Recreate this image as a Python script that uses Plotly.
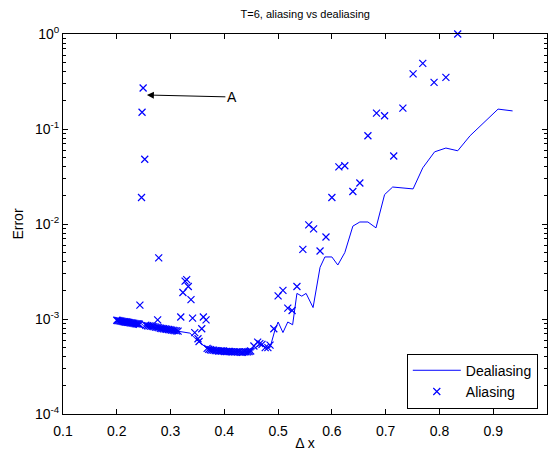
import plotly.graph_objects as go

# ---------------- data ----------------
dealias_x = [0.200, 0.245, 0.250, 0.312, 0.336, 0.349, 0.358, 0.368, 0.380, 0.400,
             0.420, 0.440, 0.452, 0.460, 0.468, 0.478, 0.485, 0.494, 0.500, 0.509,
             0.518, 0.527, 0.535, 0.544, 0.552, 0.565, 0.578, 0.587, 0.600, 0.611,
             0.624, 0.639, 0.652, 0.667, 0.682, 0.698, 0.713, 0.751, 0.769, 0.791,
             0.812, 0.834, 0.857, 0.909, 0.936]
dealias_y = [9.5e-4, 9.0e-4, 8.5e-4, 7.4e-4, 7.1e-4, 6.0e-4, 5.4e-4, 4.9e-4, 4.7e-4, 4.6e-4,
             4.5e-4, 4.5e-4, 4.6e-4, 5.1e-4, 5.4e-4, 5.0e-4, 5.0e-4, 7.6e-4, 9.3e-4, 7.2e-4,
             9.3e-4, 8.7e-4, 1.86e-3, 1.74e-3, 1.86e-3, 1.32e-3, 3.5e-3, 4.5e-3, 4.5e-3, 3.7e-3,
             5.0e-3, 9.5e-3, 1.05e-2, 1.05e-2, 9.1e-3, 2.04e-2, 2.45e-2, 2.34e-2, 3.9e-2, 5.75e-2,
             6.3e-2, 5.9e-2, 8.5e-2, 0.162, 0.155]

alias_x = [0.200, 0.202, 0.204, 0.206, 0.208, 0.210, 0.212, 0.214, 0.216, 0.218,
           0.220, 0.222, 0.224, 0.226, 0.228, 0.230, 0.232, 0.234, 0.236, 0.238,
           0.240, 0.242,
           0.243, 0.246, 0.247, 0.249, 0.252,
           0.254, 0.257, 0.260, 0.263, 0.266, 0.269, 0.272, 0.275, 0.278, 0.281,
           0.284, 0.287, 0.290, 0.293, 0.296, 0.299, 0.302, 0.305, 0.308, 0.311, 0.314,
           0.276, 0.278,
           0.319, 0.323, 0.327, 0.330, 0.333, 0.338, 0.341, 0.345, 0.351, 0.353,
           0.358, 0.361, 0.366,
           0.368, 0.371, 0.374, 0.377, 0.380, 0.383, 0.386, 0.389, 0.392, 0.395,
           0.398, 0.401, 0.404, 0.407, 0.410, 0.413, 0.416, 0.419, 0.422, 0.425,
           0.428, 0.431, 0.434, 0.437, 0.440, 0.443, 0.446, 0.449,
           0.455, 0.462, 0.466, 0.470, 0.476, 0.481, 0.485, 0.492, 0.500, 0.509,
           0.518, 0.526, 0.535, 0.546, 0.557, 0.566, 0.578, 0.589, 0.600, 0.613,
           0.624, 0.639, 0.652, 0.667, 0.683, 0.698, 0.715, 0.732, 0.751, 0.769,
           0.790, 0.812, 0.834]
alias_y = [9.7e-4, 9.65e-4, 9.6e-4, 9.55e-4, 9.5e-4, 9.45e-4, 9.4e-4, 9.35e-4, 9.3e-4, 9.3e-4,
           9.25e-4, 9.2e-4, 9.15e-4, 9.1e-4, 9.1e-4, 9.05e-4, 9.0e-4, 8.95e-4, 8.9e-4, 8.9e-4,
           8.85e-4, 8.8e-4,
           1.4e-3, 1.9e-2, 0.15, 0.27, 0.048,
           8.6e-4, 8.5e-4, 8.45e-4, 8.4e-4, 8.35e-4, 8.3e-4, 8.2e-4, 8.15e-4, 8.1e-4, 8.0e-4,
           7.95e-4, 7.9e-4, 7.85e-4, 7.8e-4, 7.75e-4, 7.7e-4, 7.65e-4, 7.6e-4, 7.55e-4, 7.5e-4, 7.45e-4,
           9.8e-4, 4.4e-3,
           1.05e-3, 1.9e-3, 2.5e-3, 2.6e-3, 2.2e-3, 1.6e-3, 1.02e-3, 7.2e-4, 6.2e-4, 5.8e-4,
           7.9e-4, 1.05e-3, 9.8e-4,
           4.9e-4, 4.8e-4, 4.75e-4, 4.7e-4, 4.7e-4, 4.65e-4, 4.65e-4, 4.6e-4, 4.6e-4, 4.6e-4,
           4.6e-4, 4.55e-4, 4.55e-4, 4.55e-4, 4.55e-4, 4.5e-4, 4.5e-4, 4.5e-4, 4.5e-4, 4.5e-4,
           4.5e-4, 4.45e-4, 4.45e-4, 4.5e-4, 4.5e-4, 4.5e-4, 4.55e-4, 4.6e-4,
           5.2e-4, 5.7e-4, 5.5e-4, 5.4e-4, 5.0e-4, 5.0e-4, 5.3e-4, 7.9e-4, 1.75e-3, 2.0e-3,
           1.3e-3, 1.23e-3, 2.2e-3, 5.4e-3, 9.8e-3, 8.9e-3, 5.2e-3, 7.3e-3, 1.9e-2, 4.0e-2,
           4.1e-2, 2.2e-2, 2.7e-2, 8.5e-2, 0.147, 0.138, 5.2e-2, 0.166, 0.38, 0.49,
           0.31, 0.35, 1.0]

x_ticks = [0.1, 0.2, 0.3, 0.4, 0.5, 0.6, 0.7, 0.8, 0.9, 1.0]
x_labels = ["0.1", "0.2", "0.3", "0.4", "0.5", "0.6", "0.7", "0.8", "0.9", "1"]
y_ticks = [1e-4, 1e-3, 1e-2, 1e-1, 1]
y_labels = ["10<sup>-4</sup>", "10<sup>-3</sup>", "10<sup>-2</sup>", "10<sup>-1</sup>", "10<sup>0</sup>"]
y_minor = [m * d for d in (1e-4, 1e-3, 1e-2, 1e-1) for m in (2, 3, 4, 5, 6, 7, 8, 9)]

FONT = "Liberation Sans, Arial, Helvetica, sans-serif"
BLUE = "rgb(0,0,255)"

fig = go.Figure()
fig.add_trace(go.Scatter(x=dealias_x, y=dealias_y, mode="lines", name="Dealiasing",
                         line=dict(color=BLUE, width=1)))
fig.add_trace(go.Scatter(x=alias_x, y=alias_y, mode="markers", name="Aliasing",
                         cliponaxis=False,
                         marker=dict(symbol="x-thin", size=7, color=BLUE,
                                     line=dict(color=BLUE, width=1.2))))

fig.add_annotation(x=0.256, y=-0.642, xref="x", yref="y", text="A",
                   showarrow=True, ax=85, ay=2, axref="pixel", ayref="pixel",
                   arrowhead=2, arrowsize=1.4, arrowwidth=1, arrowcolor="black",
                   font=dict(family=FONT, size=14, color="black"))

fig.update_layout(
    width=550, height=454,
    margin=dict(l=63, r=3, t=34, b=40),
    paper_bgcolor="white", plot_bgcolor="white",
    font=dict(family=FONT, size=14, color="black"),
    title=dict(text="T=6, aliasing vs dealiasing", x=0.555, xanchor="center",
               y=0.978, yanchor="top", font=dict(family=FONT, size=11)),
    showlegend=True,
    legend=dict(x=0.981, xanchor="right", y=0.014, yanchor="bottom",
                bordercolor="black", borderwidth=1, bgcolor="white", itemwidth=48,
                font=dict(family=FONT, size=14), tracegroupgap=0),
)
fig.update_xaxes(range=[0.1, 1.0], tickvals=x_ticks, ticktext=x_labels,
                 showline=True, linecolor="black", linewidth=1, mirror="ticks",
                 ticks="inside", ticklen=5, tickcolor="black", showgrid=False, zeroline=False,
                 ticklabelstandoff=4, tickfont=dict(size=14),
                 title=dict(text="Δ x", standoff=0, font=dict(size=14)))
fig.update_yaxes(type="log", range=[-4, 0], tickvals=y_ticks, ticktext=y_labels,
                 showline=True, linecolor="black", linewidth=1, mirror="ticks",
                 ticks="inside", ticklen=5, tickcolor="black", showgrid=False, zeroline=False,
                 tickfont=dict(size=14),
                 minor=dict(tickvals=y_minor, ticks="inside", ticklen=3, tickcolor="black",
                            showgrid=False),
                 title=dict(text="Error", standoff=8, font=dict(size=14)))

fig.write_html("out.html")
